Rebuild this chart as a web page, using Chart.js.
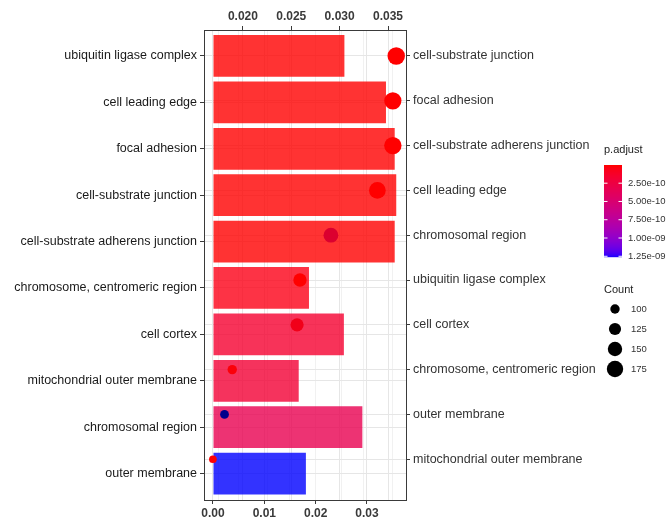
<!DOCTYPE html>
<html>
<head>
<meta charset="utf-8">
<script src="https://cdn.jsdelivr.net/npm/chart.js@4/dist/chart.umd.min.js"></script>
<style>
  html, body { margin: 0; padding: 0; background: #ffffff; }
  #wrap { width: 668px; height: 522px; }
</style>
</head>
<body>
<div id="wrap"><canvas id="chart" width="668" height="522"></canvas></div>
<script>
// Bar layer (left axis, bottom axis): GO terms, gene ratio, adjusted p
const barTerms = [
  'ubiquitin ligase complex',
  'cell leading edge',
  'focal adhesion',
  'cell-substrate junction',
  'cell-substrate adherens junction',
  'chromosome, centromeric region',
  'cell cortex',
  'mitochondrial outer membrane',
  'chromosomal region',
  'outer membrane'
];
const barRatio = [0.0256, 0.0337, 0.0354, 0.0357, 0.0354, 0.0187, 0.0255, 0.0167, 0.0291, 0.0181];
const barPAdjust = [2e-12, 1e-12, 1e-12, 1e-12, 1e-12, 5e-11, 1.5e-10, 1.8e-10, 3.2e-10, 1.26e-9];

// Dot layer (right axis, top axis)
const dotTerms = [
  'cell-substrate junction',
  'focal adhesion',
  'cell-substrate adherens junction',
  'cell leading edge',
  'chromosomal region',
  'ubiquitin ligase complex',
  'cell cortex',
  'chromosome, centromeric region',
  'outer membrane',
  'mitochondrial outer membrane'
];
const dotRatio = [0.03585, 0.0355, 0.0355, 0.0339, 0.0291, 0.0259, 0.0256, 0.0189, 0.0181, 0.0169];
const dotCount = [190, 187, 189, 180, 155, 137, 136, 100, 96, 88];
const dotPAdjust = [1e-12, 1e-12, 1e-12, 2e-12, 2.6e-10, 1e-12, 1e-10, 3e-11, 1.26e-9, 1e-11];

// Tick positions and labels
const bottomTicks = [0, 0.005, 0.01, 0.015, 0.02, 0.025, 0.03, 0.035];
const bottomLabels = ['0.00', '', '0.01', '', '0.02', '', '0.03', ''];
const topTicks = [0.0175, 0.02, 0.0225, 0.025, 0.0275, 0.03, 0.0325, 0.035];
const topLabels = ['', '0.020', '', '0.025', '', '0.030', '', '0.035'];
const pLegendBreaks = [2.5e-10, 5e-10, 7.5e-10, 1e-9, 1.25e-9];
const pLegendLabels = ['2.50e-10', '5.00e-10', '7.50e-10', '1.00e-09', '1.25e-09'];
const countBreaks = [100, 125, 150, 175];

// ---- colour helpers: gradient interpolated in CIE Lab ----
function toLin(c) { c /= 255; return c <= 0.04045 ? c / 12.92 : Math.pow((c + 0.055) / 1.055, 2.4); }
function fromLin(c) {
  const v = c <= 0.0031308 ? 12.92 * c : 1.055 * Math.pow(c, 1 / 2.4) - 0.055;
  return Math.round(Math.min(1, Math.max(0, v)) * 255);
}
function rgb2lab(rgb) {
  const r = toLin(rgb[0]), g = toLin(rgb[1]), b = toLin(rgb[2]);
  const X = (0.4124564 * r + 0.3575761 * g + 0.1804375 * b) / 0.95047;
  const Y = (0.2126729 * r + 0.7151522 * g + 0.0721750 * b);
  const Z = (0.0193339 * r + 0.1191920 * g + 0.9503041 * b) / 1.08883;
  const f = t => t > 0.008856 ? Math.cbrt(t) : 7.787 * t + 16 / 116;
  const fx = f(X), fy = f(Y), fz = f(Z);
  return [116 * fy - 16, 500 * (fx - fy), 200 * (fy - fz)];
}
function lab2rgb(lab) {
  const fy = (lab[0] + 16) / 116, fx = fy + lab[1] / 500, fz = fy - lab[2] / 200;
  const inv = t => t * t * t > 0.008856 ? t * t * t : (t - 16 / 116) / 7.787;
  const X = inv(fx) * 0.95047, Y = inv(fy), Z = inv(fz) * 1.08883;
  const r = 3.2404542 * X - 1.5371385 * Y - 0.4985314 * Z;
  const g = -0.9692660 * X + 1.8760108 * Y + 0.0415560 * Z;
  const b = 0.0556434 * X - 0.2040259 * Y + 1.0572252 * Z;
  return [fromLin(r), fromLin(g), fromLin(b)];
}
function gradient(lowRgb, highRgb) {
  const a = rgb2lab(lowRgb), b = rgb2lab(highRgb);
  return t => {
    t = Math.min(1, Math.max(0, t));
    return lab2rgb([a[0] + (b[0] - a[0]) * t, a[1] + (b[1] - a[1]) * t, a[2] + (b[2] - a[2]) * t]);
  };
}
const barGrad = gradient([255, 0, 0], [0, 0, 255]);
const dotGrad = gradient([255, 0, 0], [0, 0, 139]);
const barPMin = Math.min(...barPAdjust), barPMax = Math.max(...barPAdjust);
const dotPMin = Math.min(...dotPAdjust), dotPMax = Math.max(...dotPAdjust);
const barColor = p => { const c = barGrad((p - barPMin) / (barPMax - barPMin)); return `rgba(${c[0]},${c[1]},${c[2]},0.8)`; };
const dotColor = p => { const c = dotGrad((p - dotPMin) / (dotPMax - dotPMin)); return `rgb(${c[0]},${c[1]},${c[2]})`; };
// point radius from gene count (area scaled)
const countRadius = n => Math.sqrt(Math.max(0.6 * n - 38, 2));

Chart.defaults.font.family = '"Liberation Sans", Arial, sans-serif';
Chart.defaults.color = '#333333';

const GRID = '#e6e6e6';
const GRID_MINOR = '#f1f1f1';
const AXIS = '#3a3a3a';

function fixedTicks(values) {
  return scale => { scale.ticks = values.map(v => ({ value: v })); };
}

// ggplot-style legends drawn in the right margin
const legendPlugin = {
  id: 'sideLegends',
  afterDraw(chart) {
    const ctx = chart.ctx;
    ctx.save();
    // p.adjust colourbar
    const bx = 604, bw = 18, top = 165, bottom = 257;
    ctx.fillStyle = '#222';
    ctx.font = '11px "Liberation Sans", Arial, sans-serif';
    ctx.textAlign = 'left';
    ctx.textBaseline = 'middle';
    ctx.fillText('p.adjust', bx, 150);
    for (let y = top; y < bottom; y++) {
      const c = barGrad((y - top) / (bottom - top));
      ctx.fillStyle = `rgb(${c[0]},${c[1]},${c[2]})`;
      ctx.fillRect(bx, y, bw, 1.2);
    }
    ctx.font = '9.5px "Liberation Sans", Arial, sans-serif';
    pLegendBreaks.forEach((p, i) => {
      const y = top + (p - barPMin) / (barPMax - barPMin) * (bottom - top);
      ctx.strokeStyle = '#ffffff';
      ctx.lineWidth = 1;
      ctx.beginPath();
      ctx.moveTo(bx, y); ctx.lineTo(bx + 3.5, y);
      ctx.moveTo(bx + bw - 3.5, y); ctx.lineTo(bx + bw, y);
      ctx.stroke();
      ctx.fillStyle = '#333';
      ctx.fillText(pLegendLabels[i], bx + bw + 6, y);
    });
    // Count size legend
    ctx.fillStyle = '#222';
    ctx.font = '11px "Liberation Sans", Arial, sans-serif';
    ctx.fillText('Count', bx, 290);
    ctx.font = '9.5px "Liberation Sans", Arial, sans-serif';
    countBreaks.forEach((n, i) => {
      const y = 309 + i * 20;
      ctx.fillStyle = '#000';
      ctx.beginPath();
      ctx.arc(615, y, countRadius(n), 0, Math.PI * 2);
      ctx.fill();
      ctx.fillStyle = '#333';
      ctx.fillText(String(n), 631, y);
    });
    ctx.restore();
  }
};

new Chart(document.getElementById('chart'), {
  type: 'bar',
  data: {
    datasets: [
      {
        type: 'scatter',
        label: 'Count',
        order: 0,
        xAxisID: 'xt',
        yAxisID: 'yr',
        data: dotTerms.map((t, i) => ({ x: dotRatio[i], y: i })),
        pointRadius: dotCount.map(countRadius),
        pointHoverRadius: dotCount.map(countRadius),
        pointBackgroundColor: dotPAdjust.map(dotColor),
        pointBorderWidth: 0,
        pointBorderColor: 'rgba(0,0,0,0)'
      },
      {
        type: 'bar',
        label: 'GeneRatio',
        order: 1,
        indexAxis: 'y',
        grouped: false,
        xAxisID: 'xb',
        yAxisID: 'yl',
        data: barTerms.map((t, i) => ({ x: barRatio[i], y: i })),
        backgroundColor: barPAdjust.map(barColor),
        borderWidth: 0,
        barPercentage: 0.9,
        categoryPercentage: 1.0
      }
    ]
  },
  options: {
    responsive: false,
    animation: false,
    indexAxis: 'y',
    layout: { padding: 0 },
    plugins: { legend: { display: false }, tooltip: { enabled: false } },
    scales: {
      xb: {
        type: 'linear', position: 'bottom',
        min: -0.00175, max: 0.0376, offset: false,
        afterBuildTicks: fixedTicks(bottomTicks),
        afterFit: s => { s.height = 22; },
        ticks: {
          autoSkip: false, maxRotation: 0, padding: 2,
          color: '#3a3a3a', font: { size: 12, weight: 'bold' },
          callback: (v, i) => bottomLabels[i]
        },
        grid: {
          offset: false,
          color: c => bottomLabels[c.index] ? GRID : GRID_MINOR,
          tickColor: c => bottomLabels[c.index] ? AXIS : 'rgba(0,0,0,0)',
          tickLength: 4, lineWidth: 1
        },
        border: { display: true, color: AXIS, width: 1 }
      },
      xt: {
        type: 'linear', position: 'top',
        min: 0.01598, max: 0.03686, offset: false,
        afterBuildTicks: fixedTicks(topTicks),
        afterFit: s => { s.height = 30; },
        ticks: {
          autoSkip: false, maxRotation: 0, padding: 2,
          color: '#3a3a3a', font: { size: 12, weight: 'bold' },
          callback: (v, i) => topLabels[i]
        },
        grid: {
          offset: false,
          color: c => topLabels[c.index] ? GRID : GRID_MINOR,
          tickColor: c => topLabels[c.index] ? AXIS : 'rgba(0,0,0,0)',
          tickLength: 4, lineWidth: 1
        },
        border: { display: true, color: AXIS, width: 1 }
      },
      yl: {
        type: 'linear', position: 'left', reverse: true,
        min: -0.56, max: 9.57, offset: false,
        afterBuildTicks: fixedTicks(barTerms.map((t, i) => i)),
        afterFit: s => { s.width = 204; },
        ticks: {
          autoSkip: false, padding: 3,
          color: '#1a1a1a', font: { size: 12.5 },
          callback: (v, i) => barTerms[i]
        },
        grid: { offset: false, color: GRID, tickColor: AXIS, tickLength: 4 },
        border: { display: true, color: AXIS, width: 1 }
      },
      yr: {
        type: 'linear', position: 'right', reverse: true,
        min: -0.58, max: 9.91, offset: false,
        afterBuildTicks: fixedTicks(dotTerms.map((t, i) => i)),
        afterFit: s => { s.width = 262; },
        ticks: {
          autoSkip: false, padding: 3,
          color: '#333333', font: { size: 12.5 },
          callback: (v, i) => dotTerms[i]
        },
        grid: { offset: false, color: GRID, tickColor: AXIS, tickLength: 4 },
        border: { display: true, color: AXIS, width: 1 }
      }
    }
  },
  plugins: [legendPlugin]
});
</script>
</body>
</html>
